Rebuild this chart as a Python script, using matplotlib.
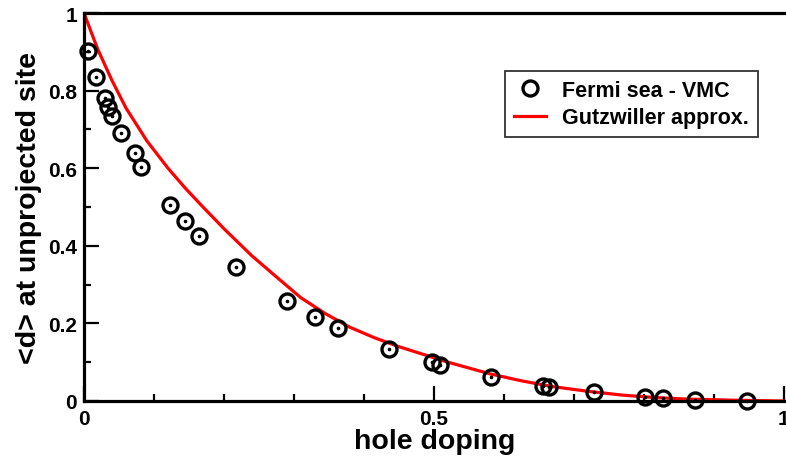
import matplotlib
matplotlib.use('Agg')
import matplotlib.pyplot as plt
from matplotlib.ticker import MultipleLocator

# VMC data: hole doping vs <d> at unprojected site
vmc_x = [0.006, 0.017, 0.030, 0.034, 0.040, 0.053, 0.073, 0.081,
         0.123, 0.144, 0.164, 0.217, 0.290, 0.330, 0.363,
         0.436, 0.497, 0.509, 0.581, 0.656, 0.664, 0.729,
         0.801, 0.827, 0.873, 0.947]
vmc_y = [0.902, 0.835, 0.781, 0.758, 0.735, 0.691, 0.639, 0.603,
         0.505, 0.464, 0.425, 0.345, 0.257, 0.216, 0.188,
         0.133, 0.100, 0.093, 0.063, 0.039, 0.037, 0.023,
         0.011, 0.008, 0.003, 0.001]

# Gutzwiller approximation curve
gw_x = [0.0, 0.01, 0.02, 0.04, 0.06, 0.09, 0.12, 0.145, 0.17, 0.20, 0.24, 0.28,
        0.31, 0.345, 0.38, 0.415, 0.45, 0.485, 0.52, 0.58, 0.625, 0.67, 0.72,
        0.77, 0.815, 0.86, 0.93, 1.0]
gw_y = [1.0, 0.952, 0.905, 0.826, 0.755, 0.670, 0.600, 0.548, 0.500, 0.444, 0.374, 0.312,
        0.266, 0.225, 0.190, 0.163, 0.140, 0.120, 0.100, 0.070, 0.052, 0.037, 0.025,
        0.015, 0.009, 0.005, 0.002, 0.0]

plt.rcParams['font.family'] = ['Liberation Sans', 'DejaVu Sans']
plt.rcParams['font.weight'] = 'bold'

fig = plt.figure(figsize=(7.86, 4.6), dpi=100)
ax = fig.add_axes([84/786, 58/460, 702/786, 388/460])

ax.plot(gw_x, gw_y, color='red', lw=2.3, label='Gutzwiller approx.', zorder=2)
ax.plot(vmc_x, vmc_y, ls='none', marker='o', ms=10.8, mfc='none', mec='black',
        mew=2.4, label='Fermi sea - VMC', zorder=3, clip_on=False)
ax.plot(vmc_x, vmc_y, ls='none', marker='o', ms=1.6, color='black', zorder=4, clip_on=False)

ax.set_xlim(0, 1.003)
ax.set_ylim(0, 1)
ax.xaxis.set_minor_locator(MultipleLocator(0.1))
ax.yaxis.set_minor_locator(MultipleLocator(0.1))
ax.set_xticks([0, 0.5, 1])
ax.set_xticklabels(['0', '0.5', '1'])
ax.set_yticks([0, 0.2, 0.4, 0.6, 0.8, 1])
ax.set_yticklabels(['0', '0.2', '0.4', '0.6', '0.8', '1'])

ax.tick_params(which='major', direction='in', length=10.5, width=1.6, labelsize=15)
ax.tick_params(axis='x', which='major', pad=6)
ax.tick_params(axis='y', which='major', pad=5)
ax.tick_params(which='minor', direction='in', length=5, width=1.6)
ax.tick_params(top=False, right=False, which='both')
for lab in ax.get_xticklabels() + ax.get_yticklabels():
    lab.set_fontweight('bold')

for s in ['left', 'bottom', 'top']:
    ax.spines[s].set_linewidth(2.3)
ax.spines['right'].set_visible(False)

ax.set_xlabel('hole doping', fontsize=20.5, fontweight='bold', labelpad=0)
ax.set_ylabel('<d> at unprojected site', fontsize=20.5, fontweight='bold', labelpad=4)

handles, labels = ax.get_legend_handles_labels()
leg = ax.legend(handles[::-1], labels[::-1], loc='upper left',
                bbox_to_anchor=(505/786, 1 - 72/460), bbox_transform=fig.transFigure,
                fontsize=15.5, frameon=True, fancybox=False, edgecolor='black',
                handlelength=1.5, handletextpad=0.75, borderpad=0.4, labelspacing=0.3,
                borderaxespad=0)
leg.get_frame().set_linewidth(1.3)
for t in leg.get_texts():
    t.set_fontweight('bold')

fig.savefig('out.png', dpi=100)
